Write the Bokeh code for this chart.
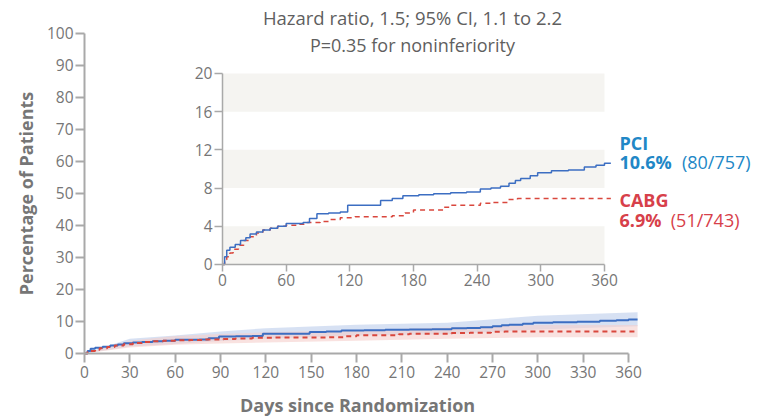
import math
from bokeh.plotting import figure
from bokeh.models import Range1d, LinearAxis, FixedTicker, Label
from bokeh.embed import file_html
from bokeh.resources import INLINE

# ---- data ----
pci_days = [0, 2, 4, 7, 12, 17, 22, 26, 32, 38, 45, 52, 60, 68, 76, 82, 89, 100, 111, 118,
            130, 142, 149, 160, 170, 185, 199, 215, 230, 243, 253, 262, 270, 276, 281, 290,
            297, 310, 326, 341, 352, 360, 366]
pci_vals = [0, 0.8, 1.5, 1.8, 2.1, 2.5, 2.8, 3.2, 3.4, 3.6, 3.8, 4.0, 4.3, 4.3, 4.4, 4.8, 5.3, 5.4, 5.5, 6.2,
            6.2, 6.2, 6.7, 6.9, 7.2, 7.3, 7.4, 7.5, 7.6, 7.9, 8.0, 8.2, 8.5, 8.8, 9.0, 9.3,
            9.6, 9.8, 9.9, 10.2, 10.4, 10.6, 10.6]

cabg_days = [0, 2, 4, 7, 10, 15, 20, 26, 32, 38, 45, 52, 60, 70, 80, 92, 100, 111, 125, 140,
             160, 172, 180, 199, 208, 215, 243, 255, 269, 278, 366]
cabg_vals = [0, 0.5, 0.8, 1.2, 1.6, 2.0, 2.5, 2.9, 3.3, 3.6, 3.8, 4.0, 4.1, 4.2, 4.4, 4.5, 4.7, 4.9, 5.0, 5.0,
             5.1, 5.4, 5.7, 5.7, 6.0, 6.2, 6.4, 6.5, 6.8, 6.9, 6.9]

ci_days = [0, 30, 60, 90, 120, 180, 240, 300, 366]
pci_lo = [0, 2.2, 3.0, 3.9, 4.6, 5.6, 6.0, 7.5, 8.5]
pci_hi = [0, 4.6, 5.6, 6.9, 7.9, 9.0, 9.6, 11.8, 12.9]
cabg_lo = [0, 1.9, 2.7, 3.1, 3.4, 4.0, 4.6, 5.1, 5.1]
cabg_hi = [0, 4.0, 5.5, 6.1, 6.6, 7.3, 8.1, 8.9, 8.9]

main_x_ticks = [0, 30, 60, 90, 120, 150, 180, 210, 240, 270, 300, 330, 360]
main_y_ticks = [0, 10, 20, 30, 40, 50, 60, 70, 80, 90, 100]
inset_x_ticks = [0, 60, 120, 180, 240, 300, 360]
inset_y_ticks = [0, 4, 8, 12, 16, 20]
band_bottoms = [0, 8, 16]
band_tops = [4, 12, 20]

title_lines = ["Hazard ratio, 1.5; 95% CI, 1.1 to 2.2", "P=0.35 for noninferiority"]
x_title = "Days since Randomization"
y_title = "Percentage of Patients"
pci_name, pci_pct, pci_n = "PCI", "10.6%", "(80/757)"
cabg_name, cabg_pct, cabg_n = "CABG", "6.9%", "(51/743)"

# ---- style ----
FONT = "Open Sans"
AX = "#a9a9a9"
TXT = "#767676"
BLUE = "#3c6ec2"
RED = "#d9473d"
BLUE_T = "#2187c6"
RED_T = "#d7404a"

# the frame covers the whole canvas; every axis sits at a fixed data location
p = figure(width=761, height=416, output_backend="svg", toolbar_location=None,
           x_range=Range1d(-55.59, 448.0), y_range=Range1d(-19.69, 110.31),
           x_axis_type=None, y_axis_type=None,
           min_border=0, min_border_left=0, min_border_right=0,
           min_border_top=0, min_border_bottom=0)
p.outline_line_color = None
p.grid.visible = False
p.background_fill_color = "white"

p.extra_x_ranges = {"ix": Range1d(-209.2, 507.96)}
p.extra_y_ranges = {"iy": Range1d(-15.92, 27.64)}


def make_axis(kind, ticks, bounds, tick_out, width, fs, standoff, rng=None):
    kw = {}
    if rng:
        kw = dict(x_range_name="ix", y_range_name="iy")
    ax = LinearAxis(fixed_location=0, ticker=FixedTicker(ticks=ticks), bounds=bounds, **kw)
    ax.axis_line_color = AX
    ax.axis_line_width = width
    ax.major_tick_line_color = AX
    ax.major_tick_line_width = width
    ax.major_tick_out = tick_out
    ax.major_tick_in = 0
    ax.minor_tick_line_color = None
    ax.major_label_text_color = TXT
    ax.major_label_text_font = FONT
    ax.major_label_text_font_size = fs
    ax.major_label_standoff = standoff
    p.add_layout(ax, kind)
    return ax


# main curves with CI bands
p.varea(x=ci_days, y1=pci_lo, y2=pci_hi, fill_color="#c6d4ee", fill_alpha=0.7)
p.varea(x=ci_days, y1=cabg_lo, y2=cabg_hi, fill_color="#f5cfcb", fill_alpha=0.6)
p.step(pci_days, pci_vals, mode="after", line_color=BLUE, line_width=2)
p.step(cabg_days, cabg_vals, mode="after", line_color=RED, line_width=2, line_dash="5 4")

make_axis("below", main_x_ticks, (0, 360), 9, 2, "15.5px", 4)
make_axis("left", main_y_ticks, (0, 100), 9, 2, "15.5px", 2)

# inset
p.quad(left=[0] * len(band_bottoms), right=[360] * len(band_bottoms), bottom=band_bottoms, top=band_tops,
       fill_color="#f5f4f1", line_color=None, x_range_name="ix", y_range_name="iy")
p.step(cabg_days, cabg_vals, mode="after", line_color=RED, line_width=1.5, line_dash="5 4",
       x_range_name="ix", y_range_name="iy")
p.step(pci_days, pci_vals, mode="after", line_color=BLUE, line_width=1.5,
       x_range_name="ix", y_range_name="iy")

make_axis("left", inset_y_ticks, (0, 20), 8, 1.5, "15.5px", 2, rng=True)
make_axis("below", inset_x_ticks, (0, 360), 7, 1.5, "15.5px", 3, rng=True)

# axis titles
p.add_layout(Label(x=180.7, y=-16.25, text=x_title, text_align="center", text_baseline="middle",
                   text_font=FONT, text_font_size="18px", text_font_style="bold", text_color=TXT))
p.add_layout(Label(x=-39.0, y=50, text=y_title, text_align="center", text_baseline="middle",
                   angle=math.pi / 2, text_font=FONT, text_font_size="18px",
                   text_font_style="bold", text_color=TXT))

# titles
for txt, yv, fs in zip(title_lines, [105, 96.25], ["18.5px", "18px"]):
    p.add_layout(Label(x=217, y=yv, text=txt, text_align="center", text_baseline="middle",
                       text_font=FONT, text_font_size=fs, text_color="#5f5f5f"))


# series labels (inset coordinates)
def lab(x, y, t, color, bold):
    p.add_layout(Label(x=x, y=y, text=t, x_range_name="ix", y_range_name="iy",
                       text_align="left", text_baseline="middle", text_font=FONT,
                       text_font_size="18px", text_color=color,
                       text_font_style="bold" if bold else "normal"))


lab(374.1, 12.77, pci_name, BLUE_T, True)
lab(374.1, 10.68, pci_pct, BLUE_T, True)
lab(433.0, 10.68, pci_n, BLUE_T, False)
lab(374.1, 6.70, cabg_name, RED_T, True)
lab(374.1, 4.61, cabg_pct, RED_T, True)
lab(422.5, 4.61, cabg_n, RED_T, False)

open("out.html", "w").write(file_html(p, INLINE))
